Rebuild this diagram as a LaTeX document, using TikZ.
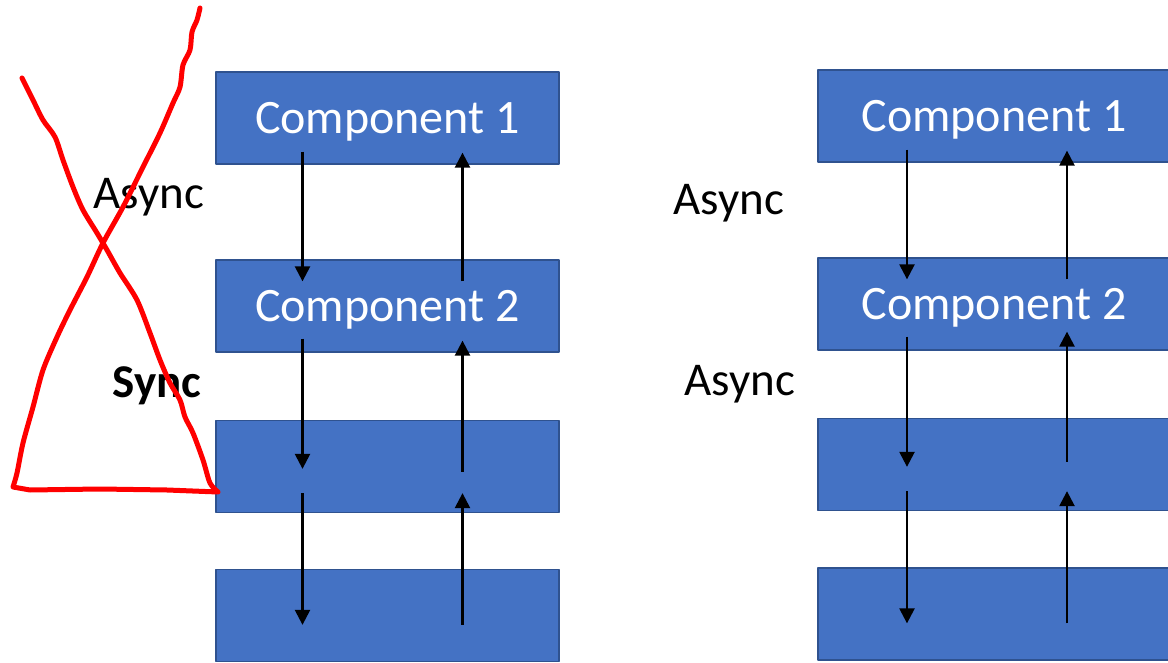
\documentclass[tikz,border=0pt]{standalone}
\usepackage{fontspec}
\setmainfont{Carlito}
\usetikzlibrary{calc,arrows.meta}
\definecolor{BoxBlue}{HTML}{4472C4}
\definecolor{BoxEdge}{HTML}{2F528F}
\definecolor{CrossRed}{HTML}{FF0000}

\begin{document}
\begin{tikzpicture}[x=1pt,y=-1pt,line cap=round,line join=round,
  comp/.style={draw=BoxEdge,fill=BoxBlue,line width=1.3pt,minimum height=92pt,
    inner sep=0pt,text height=31pt,text depth=0pt,text=white,
    font=\fontsize{48}{52}\selectfont},
  flow/.style={line width=2.4pt,line cap=butt,-{Triangle[length=15pt,width=15pt]}},
  tag/.style={anchor=base,font=\fontsize{47}{50}\selectfont}]
  \useasboundingbox (0,0) rectangle (1168,663);
  % left stack
  \node[comp,minimum width=343pt] (L1) at (387.5,118) {Component 1};
  \node[comp,minimum width=343pt] (L2) at (387.5,306) {Component 2};
  \node[comp,minimum width=343pt] (L3) at (387.5,466.5) {};
  \node[comp,minimum width=343pt] (L4) at (387.5,615.5) {};
  % right stack
  \node[comp,minimum width=352pt] (R1) at (994,116) {Component 1};
  \node[comp,minimum width=352pt] (R2) at (994,304) {Component 2};
  \node[comp,minimum width=352pt] (R3) at (994,464.5) {};
  \node[comp,minimum width=352pt] (R4) at (994,614) {};
  % arrows
  \foreach \S/\d/\u in {L/-85/75,R/-87/73}{
    \draw[flow] ([xshift=\d pt,yshift=13pt]\S1.south) -- ([xshift=\d pt,yshift=-22pt]\S2.north);
    \draw[flow] ([xshift=\u pt,yshift=-22pt]\S2.north) -- ([xshift=\u pt,yshift=12pt]\S1.south);
    \draw[flow] ([xshift=\d pt,yshift=14pt]\S2.south) -- ([xshift=\d pt,yshift=-49pt]\S3.north);
    \draw[flow] ([xshift=\d pt,yshift=20pt]\S3.south) -- ([xshift=\d pt,yshift=-56pt]\S4.north);
    \draw[flow] ([xshift=\u pt,yshift=-56pt]\S4.north) -- ([xshift=\u pt,yshift=20pt]\S3.south);
  }
  \draw[flow] ([xshift=75pt,yshift=-52pt]L3.north) -- ([xshift=75pt,yshift=12pt]L2.south);
  \draw[flow] ([xshift=73pt,yshift=-44pt]R3.north) -- ([xshift=73pt,yshift=19pt]R2.south);
  % labels
  \node[tag] (la) at (149,209) {Async};
  \node[tag,font=\fontsize{47}{50}\selectfont\bfseries] (ls) at (157,397) {Sync};
  \node[tag] (ra) at (729,215) {Async};
  \node[tag] (rb) at (740,395) {Async};
  % red cross-out
  \draw[CrossRed,line width=5pt] plot[smooth,tension=0.5] coordinates {
    (200,8) (197,20) (192,32) (190,50) (183,65) (180,87) (173,103) (160,133)
    (143,167) (123,207) (103,243) (87,277) (70,310) (57,337) (43,370) (33,407)
    (23,443) (17,473) (13,487)}
    -- (30,490) -- (100,489) -- (167,490) -- (218,492)
    plot[smooth,tension=0.5] coordinates {(218,492) (210,483) (203,460) (193,433)
    (185,417) (180,400) (170,383) (160,360) (150,333) (137,300) (120,273)
    (107,250) (97,233) (83,210) (73,187) (63,160) (55,137) (43,120) (33,100) (22,78)};
\end{tikzpicture}
\end{document}
